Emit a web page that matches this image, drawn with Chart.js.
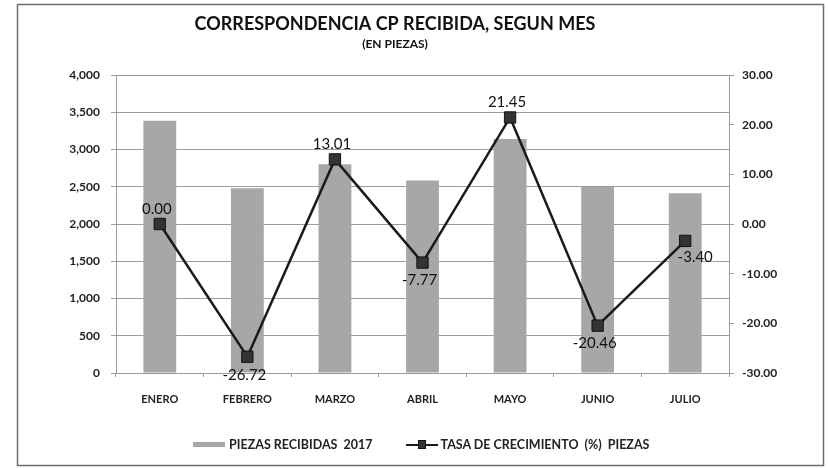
<!DOCTYPE html>
<html>
<head>
<meta charset="utf-8">
<title>Correspondencia CP recibida, segun mes</title>
<script src="https://cdn.jsdelivr.net/npm/chart.js@4.4.1/dist/chart.umd.min.js"></script>
<style>
    body { margin: 0; background: #fff; }
    #wrap { position: relative; width: 828px; height: 468px; }
    #legend { position: absolute; left: 193px; top: 437px; display: flex; align-items: center;
              font: bold 12.5px Lato, sans-serif; color: #222; white-space: nowrap; }
    #legend .item { display: flex; align-items: center; margin-right: 33px; }
    #legend .box { width: 32px; height: 5px; margin-right: 4px; }
    #legend .line { position: relative; width: 32px; height: 2px; background: #1a1a1a; margin-right: 3px; }
    #legend .line i { position: absolute; left: 12px; top: -4px; width: 8px; height: 9px; background: #333; border: 1px solid #111; box-sizing: border-box; }
</style>
</head>
<body>
<div id="wrap">
    <canvas id="chart" width="828" height="468"></canvas>
    <div id="legend"></div>
</div>
<script>
// Data
const months = ['ENERO', 'FEBRERO', 'MARZO', 'ABRIL', 'MAYO', 'JUNIO', 'JULIO'];
const piezas = [3385, 2481, 2803, 2585, 3140, 2498, 2413]; // piezas recibidas 2017
const tasa = [0.00, -26.72, 13.01, -7.77, 21.45, -20.46, -3.40]; // tasa de crecimiento (%)

// Where each growth label sits relative to its point
const labelAlign = ['top', 'bottom', 'top', 'bottom', 'top', 'bottom', 'bottomRight'];

const gridColor = '#9c9c9c';

// White sheet with a thin frame, like the scanned figure
const framePlugin = {
    id: 'frame',
    beforeDraw(chart) {
        const ctx = chart.ctx;
        ctx.save();
        ctx.fillStyle = '#fff';
        ctx.fillRect(0, 0, chart.width, chart.height);
        ctx.strokeStyle = '#6d6d6d';
        ctx.lineWidth = 1.5;
        ctx.strokeRect(17.5, 4.5, 806, 461);
        ctx.restore();
    }
};

// Value labels on the line points
const pointLabels = {
    id: 'pointLabels',
    afterDatasetsDraw(chart) {
        const ctx = chart.ctx;
        const meta = chart.getDatasetMeta(1);
        ctx.save();
        ctx.font = '15px Lato, sans-serif';
        ctx.fillStyle = '#111';
        ctx.textAlign = 'center';
        ctx.textBaseline = 'middle';
        meta.data.forEach((pt, i) => {
            let dx = -3, dy = -15;
            if (labelAlign[i] === 'bottom') dy = 18;
            if (labelAlign[i] === 'bottomRight') { dx = 10; dy = 16; }
            ctx.fillText(tasa[i].toFixed(2), pt.x + dx, pt.y + dy);
        });
        ctx.restore();
    }
};

const tickFont = { family: 'Lato', size: 12, weight: 'bold' };

const chart = new Chart(document.getElementById('chart'), {
    type: 'bar',
    data: {
        labels: months,
        datasets: [{
            type: 'bar',
            label: 'PIEZAS RECIBIDAS  2017',
            data: piezas,
            backgroundColor: '#a7a7a7',
            barPercentage: 0.375,
            categoryPercentage: 1,
            yAxisID: 'y',
            order: 2
        }, {
            type: 'line',
            label: 'TASA DE CRECIMIENTO  (%)  PIEZAS',
            data: tasa,
            borderColor: '#1a1a1a',
            borderWidth: 2.5,
            pointStyle: 'rect',
            pointRadius: 8,
            pointBackgroundColor: '#333',
            pointBorderColor: '#111',
            pointBorderWidth: 1,
            tension: 0,
            yAxisID: 'y1',
            order: 1
        }]
    },
    options: {
        responsive: false,
        animation: false,
        // uneven side padding keeps the title centred where the original has it
        layout: { padding: { left: 1, right: 39, top: 0, bottom: 0 } },
        scales: {
            x: {
                offset: true,
                grid: { display: true, drawOnChartArea: false, color: gridColor, tickLength: 4 },
                border: { color: gridColor },
                ticks: { color: '#222', font: { family: 'Lato', size: 11, weight: 'bold' }, padding: 16, maxRotation: 0 },
                afterFit(scale) { scale.height = 95; }
            },
            y: {
                position: 'left',
                min: 0,
                max: 4000,
                ticks: {
                    stepSize: 500,
                    color: '#222',
                    font: tickFont,
                    padding: 11,
                    callback: v => v.toLocaleString('en-US')
                },
                grid: { color: gridColor, tickLength: 5 },
                border: { color: gridColor },
                afterFit(scale) { scale.width = 115; }
            },
            y1: {
                position: 'right',
                min: -30,
                max: 30,
                ticks: {
                    stepSize: 10,
                    color: '#222',
                    font: tickFont,
                    padding: 8,
                    callback: v => v.toFixed(2)
                },
                grid: { drawOnChartArea: false, color: gridColor, tickLength: 5 },
                border: { color: gridColor },
                afterFit(scale) { scale.width = 60; }
            }
        },
        plugins: {
            legend: { display: false },
            tooltip: { enabled: false },
            title: {
                display: true,
                text: 'CORRESPONDENCIA CP RECIBIDA, SEGUN MES',
                color: '#111',
                font: { family: 'Lato', size: 18, weight: 'bold' },
                padding: { top: 13, bottom: 2 }
            },
            subtitle: {
                display: true,
                text: '(EN PIEZAS)',
                color: '#111',
                font: { family: 'Lato', size: 12, weight: 'bold' },
                padding: { top: 0, bottom: 24 }
            }
        }
    },
    plugins: [framePlugin, pointLabels]
});

// Legend built from the datasets, placed like in the original figure
const legend = document.getElementById('legend');
chart.data.datasets.forEach(ds => {
    const item = document.createElement('div');
    item.className = 'item';
    const mark = document.createElement('span');
    if (ds.type === 'bar') {
        mark.className = 'box';
        mark.style.background = ds.backgroundColor;
    } else {
        mark.className = 'line';
        mark.innerHTML = '<i></i>';
    }
    const text = document.createElement('span');
    text.textContent = ds.label;
    text.style.whiteSpace = 'pre';
    item.appendChild(mark);
    item.appendChild(text);
    legend.appendChild(item);
});
</script>
</body>
</html>
